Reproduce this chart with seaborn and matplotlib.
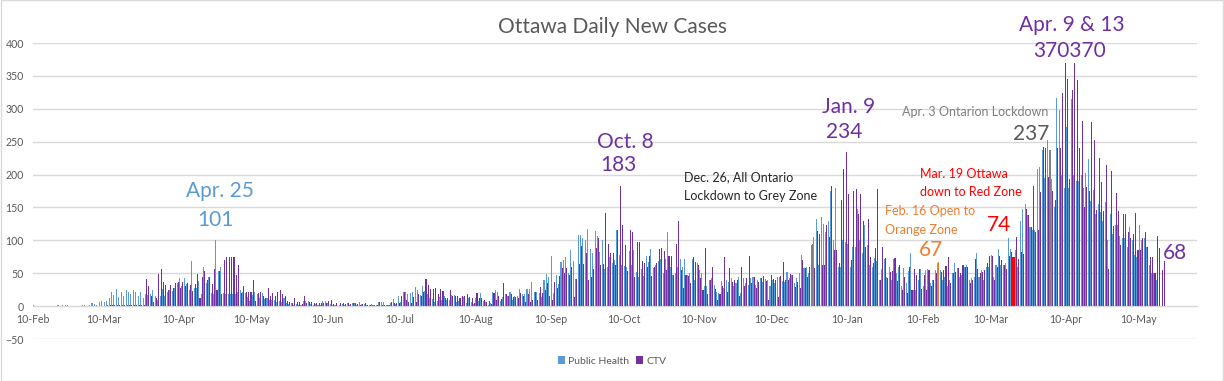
import numpy as np
import pandas as pd
import matplotlib
matplotlib.use("Agg")
import matplotlib.pyplot as plt
from matplotlib.patches import Patch, Rectangle
import seaborn as sns

# ---------------- data (daily new cases) ----------------
start_date = "2020-02-10"

ph_2020_02 = [1,0,0,0,0,0,0,0,0,0,1,0,1,1,1,0,0,0,0,0]
ctv_2020_02 = [0,0,0,0,0,0,0,0,0,0,0,0,0,0,0,0,0,0,0,0]
ph_2020_03 = [1,1,0,1,4,3,2,7,8,6,8,12,21,17,26,14,22,15,25,22,19,25,22,16,22,12,18,17,18,25,15]
ctv_2020_03 = [0,0,0,0,0,0,0,0,0,0,1,2,1,2,1,1,2,1,2,1,2,1,1,1,2,1,41,31,16,6,12]
ph_2020_04 = [10,15,26,15,22,25,23,28,35,43,30,43,34,25,68,27,27,38,18,60,35,44,20,18,101,53,59,20,19,18]
ctv_2020_04 = [49,57,36,32,25,32,27,35,36,28,36,30,35,32,23,33,49,13,44,53,40,44,34,57,25,53,19,70,75,75]
ph_2020_05 = [19,19,18,22,24,21,20,14,8,17,22,18,12,20,11,12,10,9,10,6,8,7,12,4,3,5,2,3,1,2,8]
ctv_2020_05 = [75,75,47,63,20,30,21,21,22,40,8,20,22,15,13,27,15,20,15,21,25,18,15,8,7,5,12,6,6,3,15]
ph_2020_06 = [8,8,3,2,3,2,1,8,8,5,3,1,2,-2,1,3,2,4,2,4,4,2,6,3,3,2,1,3,1,2]
ctv_2020_06 = [5,6,6,5,4,4,4,4,5,8,10,3,5,0,4,5,3,5,3,5,4,3,2,3,4,1,2,1,2,1]
ph_2020_07 = [6,6,6,2,1,4,11,3,15,6,22,22,19,20,21,29,25,17,30,23,18,13,11,6,8,14,10,15,9,10,17]
ctv_2020_07 = [6,1,2,2,2,6,5,4,4,15,22,9,7,4,14,6,18,16,22,41,32,26,26,27,18,26,23,12,13,24,15]
ph_2020_08 = [17,6,8,2,14,5,12,6,3,12,8,20,8,6,2,5,21,24,22,8,14,18,16,22,10,15,15,26,19,18,26]
ctv_2020_08 = [15,15,12,15,15,18,14,12,4,20,12,12,9,7,8,3,20,10,16,11,35,18,15,18,14,14,12,20,15,6,18]
ph_2020_09 = [26,36,21,21,20,14,40,49,45,76,20,47,33,67,70,74,50,86,68,41,108,108,104,100,117,87,80,114,106,82]
ctv_2020_09 = [6,10,21,10,29,20,24,35,15,10,36,27,46,58,50,58,48,59,14,41,64,91,64,81,40,44,57,88,104,62]
ph_2020_10 = [101,56,60,75,65,70,116,78,62,61,60,84,62,85,52,45,56,46,76,67,87,58,63,68,72,50,72,112,60,48,50]
ctv_2020_10 = [64,142,95,80,80,62,116,183,124,93,53,116,113,44,97,98,68,65,60,76,46,59,65,87,88,84,55,76,76,48,95]
ph_2020_11 = [60,71,60,71,47,50,71,40,65,55,50,30,30,40,42,32,21,20,38,27,40,37,43,30,35,44,20,43,35,32]
ctv_2020_11 = [130,55,28,47,46,35,74,67,62,43,25,88,18,40,60,26,10,18,30,75,22,58,37,39,40,15,59,30,43,76]
ph_2020_12 = [43,44,32,40,42,36,41,40,30,40,35,44,45,38,36,52,42,48,35,43,50,77,58,60,50,93,105,133,62,135,125]
ctv_2020_12 = [35,44,28,37,43,46,38,10,48,41,40,14,46,67,40,39,49,48,29,36,28,70,58,45,60,94,58,114,110,62,62]
ph_2021_01 = [112,130,175,100,180,60,60,100,98,95,60,90,90,148,100,80,123,93,63,60,73,68,40,57,72,45,60,40,72,50,60]
ctv_2021_01 = [123,105,182,85,85,65,162,208,234,170,70,175,178,140,170,130,90,132,75,65,88,178,40,90,73,42,52,54,73,38,62]
ph_2021_02 = [30,58,35,54,80,25,25,40,57,30,55,57,35,40,55,65,55,40,45,30,40,50,65,58,45,48,60,62]
ctv_2021_02 = [25,45,20,60,25,56,48,56,26,47,25,55,30,40,50,67,52,55,61,75,35,50,52,58,50,62,60,60]
ph_2021_03 = [40,42,45,80,45,55,40,60,60,78,45,63,87,62,62,65,103,87,74,85,60,130,148,155,138,121,116,116,209,211,237]
ctv_2021_03 = [35,40,72,57,50,52,55,66,76,76,40,60,76,70,62,57,76,83,74,105,72,83,79,148,138,121,182,113,115,174,242]
ph_2021_04 = [195,252,237,194,150,316,298,200,180,273,180,315,200,190,190,200,180,202,223,160,176,140,155,143,130,159,100,140,110,123]
ctv_2021_04 = [240,197,237,175,161,240,240,324,370,346,194,328,370,344,240,281,150,181,175,280,252,146,225,189,144,215,57,206,122,172]
ph_2021_05 = [123,106,104,104,90,121,100,77,75,123,100,103,90,62,51,50,40,None,None,None]
ctv_2021_05 = [145,93,140,140,112,103,110,141,85,86,103,113,90,75,75,50,106,88,55,68]

series_names = ["Public Health", "CTV"]
series_colors = ["#5B9BD5", "#7030A0"]

# highlighted days (both bars of that day recoloured)
highlight_dates = ["2020-12-26", "2021-02-16", "2021-03-19", "2021-04-03"]
highlight_colors = ["#808080", "#ED7D31", "#FF0000", "#808080"]

tick_dates = ["2020-02-10", "2020-03-10", "2020-04-10", "2020-05-10", "2020-06-10",
              "2020-07-10", "2020-08-10", "2020-09-10", "2020-10-10", "2020-11-10",
              "2020-12-10", "2021-01-10", "2021-02-10", "2021-03-10", "2021-04-10",
              "2021-05-10"]
tick_labels = ["10-Feb", "10-Mar", "10-Apr", "10-May", "10-Jun", "10-Jul", "10-Aug",
               "10-Sep", "10-Oct", "10-Nov", "10-Dec", "10-Jan", "10-Feb", "10-Mar",
               "10-Apr", "10-May"]
axis_end_date = "2021-06-03"

ph = (ph_2020_02 + ph_2020_03 + ph_2020_04 + ph_2020_05 + ph_2020_06 + ph_2020_07 +
      ph_2020_08 + ph_2020_09 + ph_2020_10 + ph_2020_11 + ph_2020_12 + ph_2021_01 +
      ph_2021_02 + ph_2021_03 + ph_2021_04 + ph_2021_05)
ctv = (ctv_2020_02 + ctv_2020_03 + ctv_2020_04 + ctv_2020_05 + ctv_2020_06 + ctv_2020_07 +
       ctv_2020_08 + ctv_2020_09 + ctv_2020_10 + ctv_2020_11 + ctv_2020_12 + ctv_2021_01 +
       ctv_2021_02 + ctv_2021_03 + ctv_2021_04 + ctv_2021_05)

t0 = pd.Timestamp(start_date)
def day_index(d):
    return (pd.Timestamp(d) - t0).days

days = np.arange(len(ph))
df = pd.concat([
    pd.DataFrame({"day": days, "cases": pd.to_numeric(pd.Series(ph, dtype=object), errors="coerce").astype(float), "source": series_names[0]}),
    pd.DataFrame({"day": days[:len(ctv)], "cases": np.array(ctv, dtype=float), "source": series_names[1]}),
], ignore_index=True).dropna()

# ---------------- figure ----------------
W, H = 1224, 381
sns.set_style("white")
plt.rcParams["font.family"] = ["Lato", "DejaVu Sans"]
fig = plt.figure(figsize=(W / 100, H / 100), dpi=100)
ax = fig.add_axes([33 / W, 1 - 339 / H, (1197 - 33) / W, (339 - 43) / H])

sns.barplot(data=df, x="day", y="cases", hue="source", hue_order=series_names,
            palette=dict(zip(series_names, series_colors)), native_scale=True,
            errorbar=None, width=0.86, linewidth=0, saturation=1, legend=False, ax=ax)

hl = {day_index(d): c for d, c in zip(highlight_dates, highlight_colors)}
for cont in ax.containers:
    for bar in cont:
        dd = int(round(bar.get_x() + bar.get_width() / 2))
        if dd in hl:
            bar.set_facecolor(hl[dd])

ax.set_xlim(-0.5, day_index(axis_end_date) - 0.5)
ax.set_ylim(-50, 400)
ax.set_yticks(np.arange(-50, 401, 50))
ax.yaxis.grid(True, color="#d9d9d9", linewidth=1)
ax.set_axisbelow(True)
ax.set_xticks([day_index(d) - 0.5 for d in tick_dates])
ax.set_xticklabels(tick_labels)
ax.set_xlabel("")
ax.set_ylabel("")
for s in ["top", "right", "left"]:
    ax.spines[s].set_visible(False)
ax.spines["bottom"].set_position(("data", 0))
ax.spines["bottom"].set_color("#d9d9d9")
ax.tick_params(axis="x", length=3, width=1, color="#bfbfbf", labelsize=7.6,
               labelcolor="#595959", pad=2.5, direction="out")
ax.tick_params(axis="y", length=0, labelsize=7.6, labelcolor="#595959", pad=6.5)

def ftxt(x, y, s, color, size, ha="center"):
    fig.text(x / W, 1 - y / H, s, color=color, fontsize=size, ha=ha, va="baseline")

ftxt(612, 33, "Ottawa Daily New Cases", "#595959", 15)

purple = "#7030A0"
blue = "#5B9BD5"
big = 15
small = 9
ftxt(220, 197, "Apr. 25", blue, big)
ftxt(215, 225.5, "101", blue, big)
ftxt(625, 148, "Oct. 8", purple, big)
ftxt(618, 171, "183", purple, big)
ftxt(684, 181.5, "Dec. 26, All Ontario", "#262626", small, ha="left")
ftxt(684, 200.5, "Lockdown to Grey Zone", "#262626", small, ha="left")
ftxt(849, 113, "Jan. 9", purple, big)
ftxt(844, 138, "234", purple, big)
ftxt(1048, 116.5, "Apr. 3 Ontarion Lockdown", "#7f7f7f", small, ha="right")
ftxt(1049, 140, "237", "#595959", big, ha="right")
ftxt(920, 177.5, "Mar. 19 Ottawa", "#FF0000", small, ha="left")
ftxt(920, 196.5, "down to Red Zone", "#FF0000", small, ha="left")
ftxt(999, 231, "74", "#FF0000", big)
ftxt(885, 215, "Feb. 16 Open to", "#ED7D31", small, ha="left")
ftxt(885, 234, "Orange Zone", "#ED7D31", small, ha="left")
ftxt(931, 256, "67", "#ED7D31", big)
ftxt(1072, 31, "Apr. 9 & 13", purple, big)
ftxt(1070, 57, "370370", purple, big)
ftxt(1175, 259, "68", purple, big)

handles = [Patch(facecolor=c, edgecolor="none", label=n) for n, c in zip(series_names, series_colors)]
fig.legend(handles=handles, loc="center", bbox_to_anchor=(612 / W, 1 - 361 / H), ncol=2,
           frameon=False, fontsize=7.5, handlelength=0.7, handleheight=0.7,
           handletextpad=0.3, columnspacing=0.6, labelcolor="#595959")

fig.add_artist(Rectangle((0.0005, 0.001), 0.999, 0.998, transform=fig.transFigure,
                         fill=False, edgecolor="#d9d9d9", linewidth=1))

fig.savefig("out.png", dpi=100)
